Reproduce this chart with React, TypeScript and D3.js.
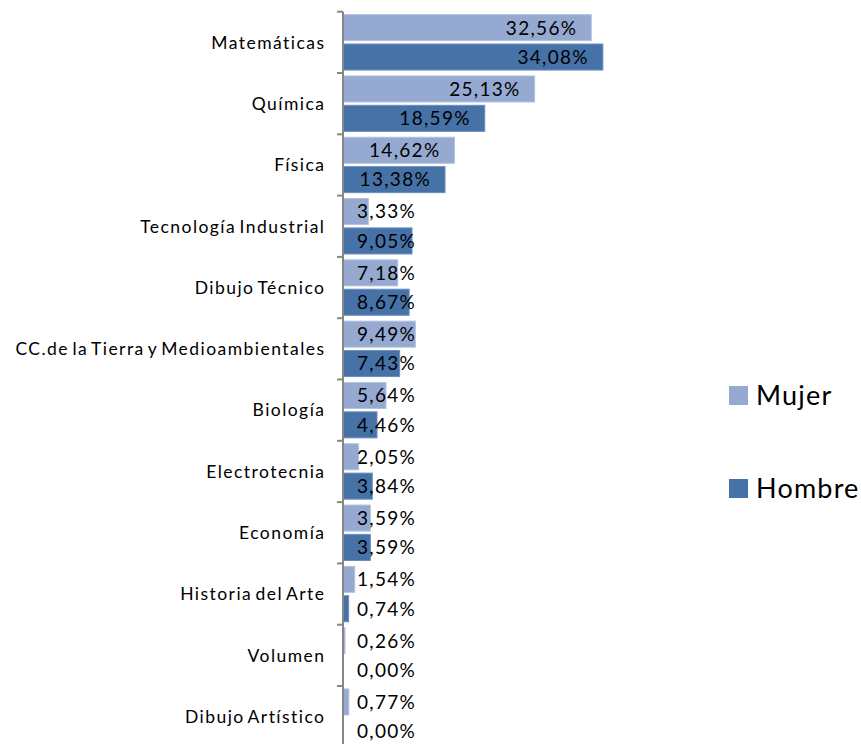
import React from "react";
import * as d3 from "d3";

const categories = [
  "Matemáticas",
  "Química",
  "Física",
  "Tecnología Industrial",
  "Dibujo Técnico",
  "CC.de la Tierra y Medioambientales",
  "Biología",
  "Electrotecnia",
  "Economía",
  "Historia del Arte",
  "Volumen",
  "Dibujo Artístico",
];
const mujer = [32.56, 25.13, 14.62, 3.33, 7.18, 9.49, 5.64, 2.05, 3.59, 1.54, 0.26, 0.77];
const hombre = [34.08, 18.59, 13.38, 9.05, 8.67, 7.43, 4.46, 3.84, 3.59, 0.74, 0.0, 0.0];
const seriesNames = ["Mujer", "Hombre"];
const seriesColors = ["#95A9D1", "#4672A8"];
const seriesStroke = ["#B4C3E0", "#6A8EBD"];

const FONT = "Lato, 'Open Sans', sans-serif";
const LABEL_SIZE = 19;
const LABEL_LS = 1.3;
const CAT_SIZE = 17.5;
const CAT_LS = 1.45;
const CAT_WS = -2.5;

let ctx: CanvasRenderingContext2D | null = null;
function measure(text: string, size: number, ls: number) {
  if (!ctx) ctx = document.createElement("canvas").getContext("2d");
  if (!ctx) return text.length * (size * 0.5 + ls);
  ctx.font = `${size}px ${FONT}`;
  return ctx.measureText(text).width + ls * text.length;
}

export default function App() {
  const W = 861;
  const H = 744;
  const axisX = 343;
  const x = d3.scaleLinear().domain([0, 35]).range([axisX, axisX + 35 * 7.625]);
  const y = d3.scaleBand<string>().domain(categories).range([11.7, 747.3]).padding(0);
  const sub = d3
    .scaleBand<string>()
    .domain(seriesNames)
    .range([0, y.bandwidth()])
    .paddingInner(0.113)
    .paddingOuter(0.1);
  const data = [mujer, hombre];
  const fmt = (v: number) => v.toFixed(2).replace(".", ",") + "%";

  const boundaries = categories.map((c) => y(c)!);

  return (
    <div style={{ position: "absolute", left: 0, top: 0 }}>
      <svg width={W} height={H} style={{ display: "block", background: "#fff" }}>
        {categories.map((c, i) =>
          seriesNames.map((s, j) => {
            const v = data[j][i];
            const by = y(c)! + sub(s)!;
            const bw = x(v) - x(0);
            return bw > 0 ? (
              <rect
                key={c + s}
                x={x(0)}
                y={by}
                width={bw}
                height={sub.bandwidth()}
                fill={seriesColors[j]}
                stroke={seriesStroke[j]}
                strokeWidth={1}
              />
            ) : null;
          })
        )}
        {categories.map((c, i) =>
          seriesNames.map((s, j) => {
            const v = data[j][i];
            const t = fmt(v);
            const w = measure(t, LABEL_SIZE, LABEL_LS);
            const by = y(c)! + sub(s)! + sub.bandwidth() / 2;
            let lx = x(v) - 14 - w;
            if (lx < axisX + 14) lx = axisX + 14;
            return (
              <text
                key={"l" + c + s}
                x={lx}
                y={by}
                dy="0.36em"
                fontFamily={FONT}
                fontSize={LABEL_SIZE}
                letterSpacing={LABEL_LS}
                fill="#000"
              >
                {t}
              </text>
            );
          })
        )}
        <line x1={axisX} x2={axisX} y1={11.7} y2={H} stroke="#868686" strokeWidth={2} />
        {boundaries.map((b, i) => (
          <line key={"t" + i} x1={axisX - 6} x2={axisX} y1={b} y2={b} stroke="#868686" strokeWidth={2} />
        ))}
        {categories.map((c) => (
          <text
            key={"c" + c}
            x={324 + CAT_LS}
            y={y(c)! + y.bandwidth() / 2}
            dy="0.36em"
            textAnchor="end"
            fontFamily={FONT}
            fontSize={CAT_SIZE}
            letterSpacing={CAT_LS}
            wordSpacing={CAT_WS}
            fill="#000"
          >
            {c}
          </text>
        ))}
        {seriesNames.map((s, j) => (
          <g key={"lg" + s} transform={`translate(729, ${386 + j * 93})`}>
            <rect x={0} y={0} width={19} height={19} fill={seriesColors[j]} />
            <text
              x={27}
              y={9.5}
              dy="0.36em"
              fontFamily={FONT}
              fontSize={27}
              letterSpacing={1.2}
              fill="#000"
            >
              {s}
            </text>
          </g>
        ))}
      </svg>
    </div>
  );
}
